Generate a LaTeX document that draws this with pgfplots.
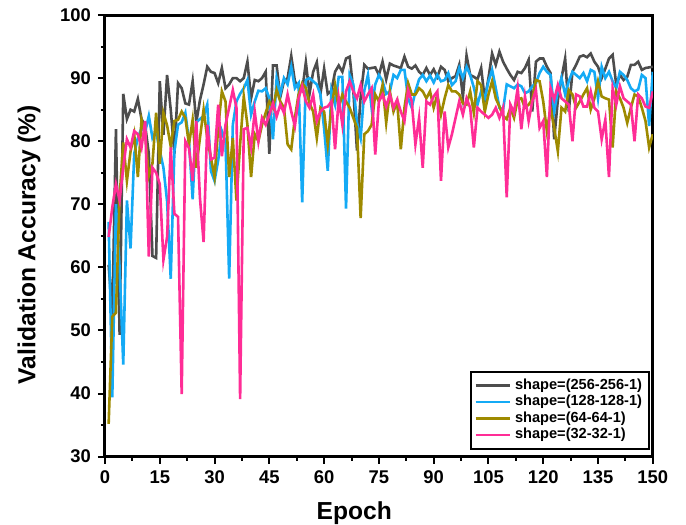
\documentclass[border=0pt]{standalone}
\usepackage{fontspec}
\setmainfont{Liberation Sans}
\usepackage{pgfplots}
\usepackage{pgfplotstable}
\pgfplotsset{compat=1.18}

\definecolor{cgray}{RGB}{77,77,77}
\definecolor{cblue}{RGB}{20,170,245}
\definecolor{colive}{RGB}{158,138,0}
\definecolor{cpink}{RGB}{255,45,150}

% epoch, 256-256-1, 128-128-1, 64-64-1, 32-32-1
\pgfplotstableread{
ep g b o p
1 60.4 67.2 35.2 64.8
2 52.5 39.4 52.2 69.5
3 81.9 70.0 52.8 73.2
4 49.3 60.0 71.1 70.6
5 87.5 44.6 79.8 75.8
6 83.5 70.6 73.7 80.3
7 85.0 63.0 78.4 79.0
8 84.7 78.0 81.1 81.6
9 86.7 80.5 74.3 81.1
10 83.5 82.1 83.4 79.0
11 82.5 81.5 81.1 83.2
12 78.0 84.0 74.5 61.7
13 61.8 80.5 76.5 75.8
14 61.5 81.5 84.5 75.0
15 89.5 78.5 76.4 73.2
16 81.0 75.8 84.5 61.2
17 90.5 70.5 82.5 64.8
18 85.0 58.2 79.2 79.0
19 78.0 78.4 83.2 68.5
20 89.2 82.6 83.4 68.0
21 88.4 83.0 84.7 39.9
22 86.0 84.5 83.7 80.0
23 85.8 80.0 79.5 78.9
24 89.5 70.8 83.4 73.7
25 83.0 83.0 75.8 83.2
26 86.5 83.5 80.5 71.0
27 89.0 84.0 85.0 64.0
28 91.8 85.8 80.5 82.6
29 91.0 75.3 77.4 77.1
30 90.8 73.7 74.3 77.4
31 89.2 77.0 82.1 85.8
32 91.6 81.6 87.9 77.6
33 88.4 80.0 86.3 82.6
34 89.0 58.2 74.3 85.3
35 90.0 82.6 80.5 88.1
36 90.0 86.3 70.6 85.3
37 89.5 87.5 79.5 39.1
38 90.0 88.4 87.1 81.9
39 92.6 89.7 82.6 82.1
40 86.8 84.2 74.3 79.0
41 89.7 86.3 81.1 84.7
42 89.5 88.0 80.0 80.0
43 90.0 87.9 82.6 83.7
44 91.0 88.4 84.5 82.6
45 78.0 86.8 86.3 84.2
46 92.0 80.3 85.3 86.0
47 92.0 90.0 88.1 83.9
48 87.0 87.5 86.3 85.8
49 89.5 90.0 85.3 84.5
50 90.0 89.0 79.5 87.4
51 93.5 91.8 78.7 84.7
52 89.5 88.4 83.7 82.4
53 88.5 89.2 87.4 86.8
54 88.0 70.3 89.2 88.7
55 92.5 89.7 88.4 86.3
56 87.5 90.0 86.0 85.3
57 91.0 89.5 84.7 87.4
58 92.5 89.0 80.5 83.2
59 87.5 87.4 85.3 84.7
60 91.5 82.0 84.7 85.3
61 87.5 75.3 79.5 85.5
62 88.0 88.0 85.3 86.3
63 91.0 85.8 88.9 78.7
64 92.0 90.2 85.3 86.8
65 91.0 90.2 87.4 82.6
66 93.1 69.3 86.3 87.9
67 93.4 90.5 85.3 89.5
68 88.0 89.0 83.7 87.9
69 78.5 83.0 82.1 86.8
70 87.0 80.5 67.8 88.9
71 92.1 88.0 81.1 86.3
72 91.5 90.5 81.6 87.4
73 91.6 85.3 82.6 88.4
74 91.7 89.0 87.4 77.9
75 90.5 90.5 86.3 86.3
76 92.6 89.5 88.9 87.4
77 89.8 87.5 82.9 85.5
78 92.3 87.9 87.9 87.4
79 92.0 90.5 84.7 85.3
80 91.8 90.0 86.3 86.6
81 91.6 91.3 78.7 84.7
82 93.4 91.3 85.3 83.2
83 91.8 86.8 89.2 88.1
84 91.5 85.3 87.4 86.3
85 92.0 87.9 87.4 79.5
86 91.0 89.8 88.4 83.7
87 90.5 90.5 87.9 75.8
88 91.6 89.5 86.8 86.3
89 90.5 90.4 87.9 85.8
90 91.4 89.3 85.3 87.1
91 90.2 90.5 87.4 87.9
92 91.8 89.5 84.2 73.7
93 91.3 89.7 86.8 84.7
94 89.5 90.8 88.9 79.0
95 90.0 88.9 87.9 81.1
96 90.3 89.5 87.9 83.7
97 92.1 91.6 87.4 86.3
98 87.0 90.0 86.0 84.2
99 93.6 91.8 85.8 86.8
100 90.5 90.5 87.9 85.3
101 90.2 88.5 84.5 79.0
102 89.8 85.8 89.5 85.3
103 91.6 87.9 88.9 84.7
104 86.6 86.8 84.7 84.2
105 90.0 89.5 87.4 83.7
106 93.9 91.3 89.5 84.2
107 92.1 88.4 86.8 85.3
108 94.2 85.3 85.5 83.7
109 92.6 85.0 84.0 85.3
110 91.5 89.0 83.5 71.1
111 90.5 88.7 85.3 85.8
112 89.7 88.4 83.7 84.5
113 91.0 89.0 86.6 88.4
114 90.8 88.7 86.8 81.9
115 91.6 87.6 85.3 87.1
116 92.9 87.9 85.8 83.2
117 84.7 88.7 86.6 86.3
118 92.6 89.2 89.7 88.1
119 93.1 90.8 89.5 82.1
120 93.1 91.8 86.3 83.2
121 91.8 91.0 81.6 74.3
122 90.8 90.5 85.3 88.4
123 80.3 84.7 82.1 86.6
124 86.5 87.9 78.4 88.9
125 90.0 90.0 85.3 86.8
126 93.1 87.4 84.7 86.3
127 84.7 89.5 88.1 85.8
128 91.0 91.0 87.4 80.0
129 92.1 90.5 85.3 87.4
130 93.4 90.0 86.3 87.1
131 93.6 90.8 87.4 85.5
132 93.3 89.5 88.4 85.5
133 93.9 91.3 85.0 87.9
134 92.6 91.0 86.8 85.3
135 91.8 86.8 89.5 84.7
136 90.0 91.8 87.1 80.3
137 91.5 90.0 86.8 83.4
138 93.1 91.0 86.6 74.3
139 93.7 89.5 79.0 88.4
140 88.9 88.4 87.9 85.8
141 90.5 91.0 86.8 88.7
142 89.7 90.5 85.3 86.8
143 90.2 89.7 82.9 86.3
144 92.1 88.4 85.3 85.8
145 92.1 87.9 87.4 80.0
146 92.6 88.2 87.1 87.4
147 91.3 90.5 85.3 86.8
148 91.6 90.0 83.2 85.5
149 91.7 82.4 79.0 85.3
150 91.8 91.0 81.1 87.9
}\acc

\begin{document}
\begin{tikzpicture}
\path[use as bounding box] (-52.5pt,-34.2pt) rectangle (290.5pt,228.3pt);
\begin{axis}[
  anchor=south west, at={(0pt,0pt)},
  scale only axis, width=273.9pt, height=220.8pt,
  xmin=0, xmax=150, ymin=30, ymax=100,
  xtick={0,15,...,150}, ytick={30,40,...,100},
  minor x tick num=1, minor y tick num=1,
  tick pos=left, tick align=outside,
  major tick length=3.5pt, minor tick length=2pt,
  tick style={black, line width=1pt},
  axis line style={line width=1.5pt},
  xlabel={Epoch}, ylabel={Validation Accuracy (\%)},
  label style={font=\bfseries\fontsize{12.3}{14}\selectfont},
  xlabel style={at={(ticklabel cs:0.455)}},
  ylabel style={at={(ticklabel cs:0.48)}},
  xlabel shift=2pt, ylabel shift=3pt,
  tick label style={font=\bfseries\fontsize{9.2}{11}\selectfont},
  /pgf/number format/assume math mode=true,
  legend style={at={(rel axis cs:0.995,0.015)}, anchor=south east,
    draw=black, line width=1pt, inner sep=1.5pt,
    font=\bfseries\fontsize{7.3}{8}\selectfont, row sep=-2.5pt},
  legend cell align=left,
  every axis plot/.append style={line width=1.3pt, no markers},
]
\addplot[color=cgray] table[x=ep, y=g] {\acc};
\addlegendentry{shape=(256-256-1)}
\addplot[color=cblue] table[x=ep, y=b] {\acc};
\addlegendentry{shape=(128-128-1)}
\addplot[color=colive] table[x=ep, y=o] {\acc};
\addlegendentry{shape=(64-64-1)}
\addplot[color=cpink] table[x=ep, y=p] {\acc};
\addlegendentry{shape=(32-32-1)}
\end{axis}
\end{tikzpicture}
\end{document}
